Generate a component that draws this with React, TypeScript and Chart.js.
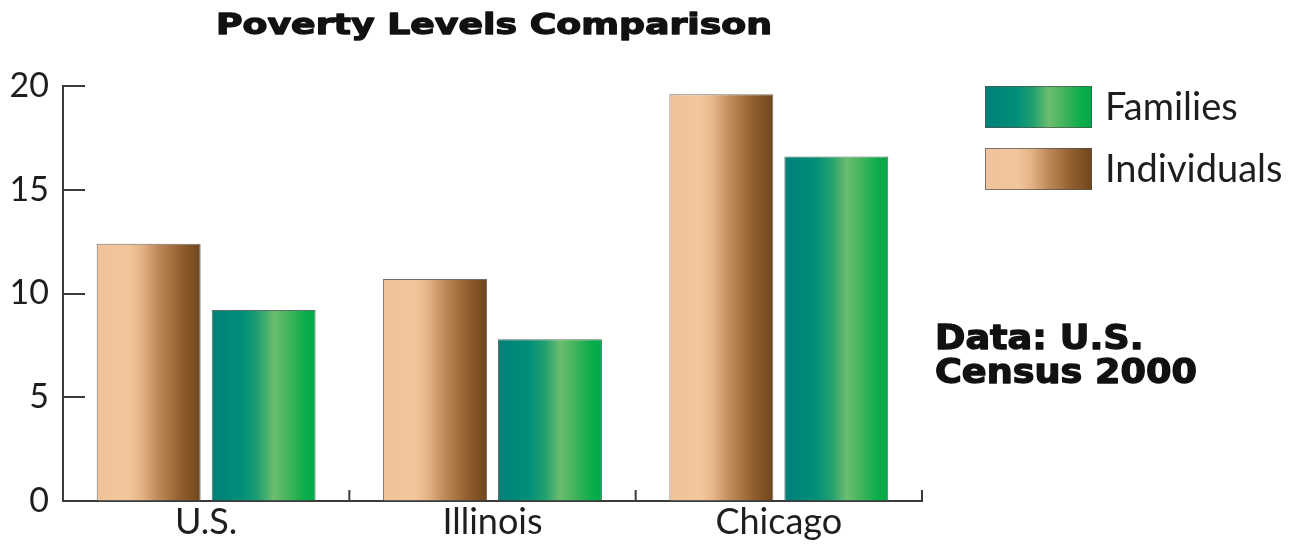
import React, { useEffect, useRef } from "react";
import { Chart, registerables } from "chart.js";

Chart.register(...registerables);

// ---- data ----
const categories = ["U.S.", "Illinois", "Chicago"];
const individuals = [12.4, 10.7, 19.6];
const families = [9.2, 7.8, 16.6];
const yMin = 0;
const yMax = 20;
const yStep = 5;
const titleText = "Poverty Levels Comparison";
const noteLines = ["Data: U.S.", "Census 2000"];
const legendOrder = ["Families", "Individuals"];

// ---- styles ----
const INDIV_STOPS: [number, string][] = [
  [0, "#f0c39a"],
  [0.3, "#f2c69d"],
  [0.42, "#e6b68a"],
  [0.58, "#c08c5c"],
  [0.8, "#93602f"],
  [1, "#6f461c"],
];
const FAM_STOPS: [number, string][] = [
  [0, "#00807a"],
  [0.3, "#008f78"],
  [0.45, "#22a070"],
  [0.6, "#6bbd6e"],
  [0.75, "#3fb35a"],
  [0.9, "#0bad4b"],
  [1, "#00a84a"],
];
const STOPS: Record<string, [number, string][]> = {
  Individuals: INDIV_STOPS,
  Families: FAM_STOPS,
};

function makeGradient(ctx: CanvasRenderingContext2D, x0: number, x1: number, stops: [number, string][]) {
  const g = ctx.createLinearGradient(x0, 0, x1, 0);
  stops.forEach(([o, c]) => g.addColorStop(o, c));
  return g;
}

const AXIS_COLOR = "#3a3a3a";
const TEXT_COLOR = "#1e1e1e";
const SANS = "Lato, 'Open Sans', sans-serif";
const HEAVY = "'DejaVu Sans', sans-serif";

const gradientPlugin = {
  id: "barGradients",
  beforeDatasetsDraw(chart: any) {
    const ctx = chart.ctx;
    chart.data.datasets.forEach((ds: any, di: number) => {
      const meta = chart.getDatasetMeta(di);
      const stops = STOPS[ds.label];
      meta.data.forEach((el: any) => {
        const { x, width } = el.getProps(["x", "width"], true);
        el.options.backgroundColor = makeGradient(ctx, x - width / 2, x + width / 2, stops);
      });
    });
  },
};

function heavyText(ctx: CanvasRenderingContext2D, text: string, x: number, y: number, sx: number) {
  ctx.save();
  ctx.translate(x, y);
  ctx.scale(sx, 1);
  ctx.textAlign = "left";
  ctx.textBaseline = "alphabetic";
  ctx.fillStyle = "#111";
  ctx.fillText(text, 0, 0);
  ctx.strokeStyle = "#111";
  ctx.lineWidth = 1.3;
  ctx.lineJoin = "round";
  ctx.strokeText(text, 0, 0);
  ctx.restore();
}

const decorPlugin = {
  id: "decor",
  afterDraw(chart: any) {
    const ctx: CanvasRenderingContext2D = chart.ctx;
    const area = chart.chartArea;
    const xs = chart.scales.x;
    const ys = chart.scales.y;
    ctx.save();
    // inward y ticks
    ctx.strokeStyle = AXIS_COLOR;
    ctx.lineWidth = 2;
    ys.ticks.forEach((t: any) => {
      if (t.value <= yMin) return;
      const y = Math.round(ys.getPixelForValue(t.value));
      ctx.beginPath();
      ctx.moveTo(area.left, y);
      ctx.lineTo(area.left + 22, y);
      ctx.stroke();
    });
    // inward x ticks at category boundaries
    const n = categories.length;
    for (let i = 1; i <= n; i++) {
      const x = xs.left + (i * xs.width) / n;
      ctx.beginPath();
      ctx.moveTo(x, area.bottom);
      ctx.lineTo(x, area.bottom - 11);
      ctx.stroke();
    }

    // title
    ctx.font = `bold 29px ${HEAVY}`;
    const tw = ctx.measureText(titleText).width;
    heavyText(ctx, titleText, 216, 34, 556 / tw);

    // note
    ctx.font = `bold 33px ${HEAVY}`;
    const nw = ctx.measureText(noteLines[1]).width;
    const sx = 262 / nw;
    noteLines.forEach((line, i) => heavyText(ctx, line, 935, 349 + i * 34, sx));

    // legend
    legendOrder.forEach((label, i) => {
      const top = 86 + i * 62;
      const left = 985;
      const w = 107;
      const h = 42;
      ctx.fillStyle = makeGradient(ctx, left, left + w, STOPS[label]);
      ctx.fillRect(left, top, w, h);
      ctx.strokeStyle = "rgba(80,80,80,0.7)";
      ctx.lineWidth = 1;
      ctx.strokeRect(left + 0.5, top + 0.5, w - 1, h - 1);
      ctx.fillStyle = TEXT_COLOR;
      ctx.font = `38px ${SANS}`;
      ctx.textAlign = "left";
      ctx.textBaseline = "middle";
      ctx.fillText(label, 1105, top + h / 2 + 1);
    });
    ctx.restore();
  },
};

export default function App() {
  const ref = useRef<HTMLCanvasElement | null>(null);

  useEffect(() => {
    if (!ref.current) return;
    const chart = new Chart(ref.current, {
      type: "bar",
      data: {
        labels: categories,
        datasets: [
          {
            label: "Individuals",
            data: individuals,
            backgroundColor: () => INDIV_STOPS[0][1],
            borderColor: "rgba(70,60,50,0.75)",
            borderWidth: 1,
            categoryPercentage: 0.803,
            barPercentage: 0.904,
          },
          {
            label: "Families",
            data: families,
            backgroundColor: () => FAM_STOPS[0][1],
            borderColor: "rgba(40,60,50,0.75)",
            borderWidth: 1,
            categoryPercentage: 0.803,
            barPercentage: 0.904,
          },
        ],
      },
      options: {
        responsive: false,
        animation: false,
        events: [],
        layout: { padding: { left: 0, top: 86, right: 382, bottom: 0 } },
        plugins: {
          legend: { display: false },
          title: { display: false },
          tooltip: { enabled: false },
        },
        scales: {
          x: {
            afterFit: (s: any) => {
              s.height = 43;
            },
            grid: { display: true, drawOnChartArea: false, drawTicks: false, offset: true },
            border: { display: true, color: AXIS_COLOR, width: 2 },
            ticks: {
              color: TEXT_COLOR,
              font: { family: SANS, size: 36 },
              padding: 0,
            },
          },
          y: {
            min: yMin,
            max: yMax,
            afterFit: (s: any) => {
              s.width = 63;
            },
            grid: { display: true, drawOnChartArea: false, drawTicks: false },
            border: { display: true, color: AXIS_COLOR, width: 2 },
            ticks: {
              stepSize: yStep,
              color: TEXT_COLOR,
              font: { family: SANS, size: 34 },
              padding: 14,
            },
          },
        },
      },
      plugins: [gradientPlugin, decorPlugin],
    });
    return () => chart.destroy();
  }, []);

  return (
    <div style={{ position: "absolute", left: 0, top: 0, width: 1304, height: 544, background: "#fff" }}>
      <canvas ref={ref} width={1304} height={544} style={{ display: "block" }} />
    </div>
  );
}
